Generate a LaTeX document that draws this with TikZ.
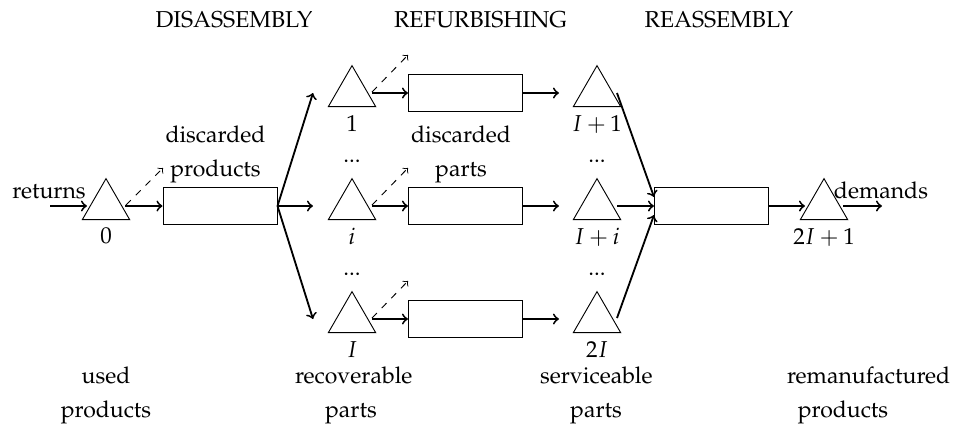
\documentclass[tikz,border=0pt]{standalone}
\usepackage[T1]{fontenc}
\usepackage{mathpazo}
\usetikzlibrary{shapes.geometric,calc}
\tikzset{
    stock/.style = {draw, thin, regular polygon, regular polygon sides=3, minimum size=23.8pt, inner sep=0pt},
    stage/.style = {draw, thin, rectangle, minimum width=49.6pt, minimum height=16.1pt, inner sep=0pt},
    flow/.style = {->, thick},
    loss/.style = {->, thin, dashed},
    caption/.style = {text width=48.7pt, align=flush center, inner sep=0pt, font=\linespread{1.25}\selectfont},
}

\begin{document}
\begin{tikzpicture}[x=0.4348pt, y=-0.4348pt]
\useasboundingbox (0,0) rectangle (958,427);

% phase titles
\node[anchor=base] (tdis) at (234,27) {DISASSEMBLY};
\node[anchor=base] (tref) at (480.5,27) {REFURBISHING};
\node[anchor=base] (trea) at (719,27) {REASSEMBLY};

% stock points
\node[stock, label=below:$0$] (t0) at (106,206) {};
\node[stock, label=below:$1$] (r1) at (352,93) {};
\node[stock, label=below:$i$] (ri) at (352,206) {};
\node[stock, label=below:$I$] (rI) at (352,319) {};
\node[stock, label=below:$I+1$] (s1) at (597,93) {};
\node[stock, label=below:$I+i$] (si) at (597,206) {};
\node[stock, label=below:$2I$] (sI) at (597,319) {};
\node[stock, label=below:$2I+1$] (t2) at (824,206) {};
\node[anchor=base] (dr1) at (352,162) {...};
\node[anchor=base] (dr2) at (352,275) {...};
\node[anchor=base] (ds1) at (597,162) {...};
\node[anchor=base] (ds2) at (597,275) {...};

% processes
\node[stage] (dis) at (220,206) {};
\node[stage] (ref1) at (465.5,93) {};
\node[stage] (refi) at (465.5,206) {};
\node[stage] (refI) at (465.5,319) {};
\node[stage] (reas) at (711.5,206) {};

% texts
\node[anchor=base] (ret) at (49,198) {returns};
\node[anchor=base] (dem) at (881,198) {demands};
\node[caption, anchor=base] (cdp) at (215.5,142) {discarded products};
\node[caption, anchor=base] (cdq) at (461,142) {discarded parts};
\node[caption, anchor=base] (cup) at (106,383) {used products};
\node[caption, anchor=base] (crp) at (351,383) {recoverable parts};
\node[caption, anchor=base] (csp) at (596,383) {serviceable parts};
\node[caption, anchor=base] (cmp) at (843,383) {remanufactured products};

% flows
\coordinate (in) at (50,206);
\coordinate (out) at (882,206);
\draw[flow] (in) -- ($(t0)+(-19,0)$);
\draw[flow] ($(t0)+(19,0)$) -- (dis);
\draw[loss] ($(t0)+(20,-1)$) -- ($(t0)+(57,-38)$);
\foreach \r/\b/\s in {r1/ref1/s1, ri/refi/si, rI/refI/sI} {
    \draw[flow] (dis.east) -- ($(\r)+(-39,0)$);
    \draw[flow] ($(\r)+(20,0)$) -- (\b);
    \draw[loss] ($(\r)+(20,-1)$) -- ($(\r)+(56,-38)$);
    \draw[flow] (\b) -- ($(\s)+(-38,0)$);
}
\draw[flow] ($(s1)+(20,0)$) -- ($(reas.west)+(0,-9)$);
\draw[flow] ($(si)+(20,0)$) -- (reas.west);
\draw[flow] ($(sI)+(20,-1)$) -- ($(reas.west)+(0,9)$);
\draw[flow] (reas) -- ($(t2)+(-19,0)$);
\draw[flow] ($(t2)+(19,0)$) -- (out);
\end{tikzpicture}
\end{document}
